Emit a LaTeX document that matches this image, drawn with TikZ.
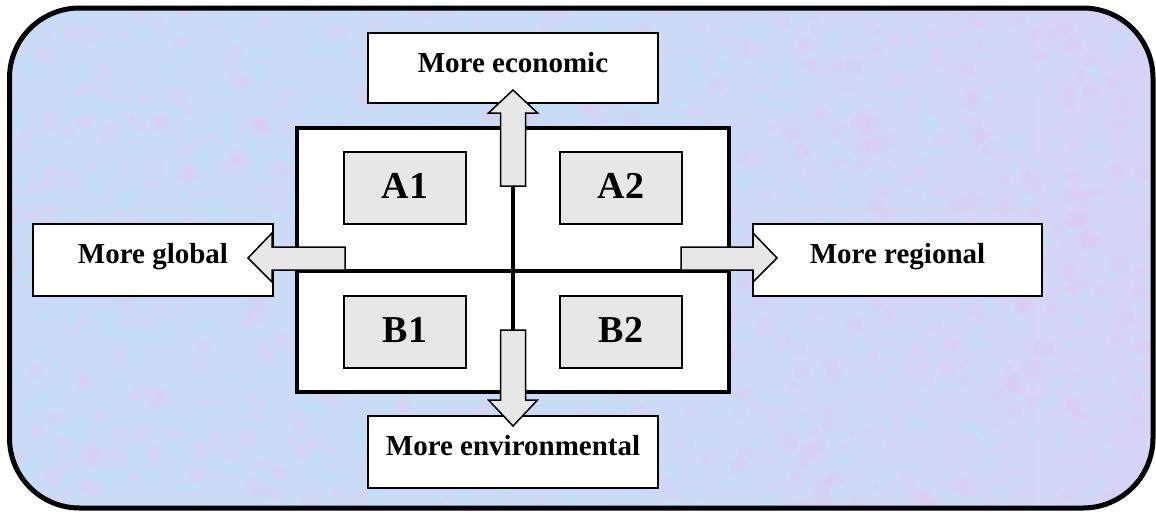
\documentclass[tikz,border=0pt]{standalone}
\usepackage{fontspec}
\setmainfont{Liberation Serif}
\definecolor{bgblue}{RGB}{202,219,247}
\definecolor{bglav}{RGB}{214,212,247}
\definecolor{spotpink}{RGB}{230,200,240}
\definecolor{spotcyan}{RGB}{190,230,247}
\definecolor{boxgray}{RGB}{231,231,231}
\tikzset{
  labelbox/.style={draw=black, line width=1.6pt, fill=white, inner sep=0pt,
    font=\fontsize{29}{30}\selectfont\bfseries, anchor=base},
  cellbox/.style={draw=black, line width=1.6pt, fill=boxgray, inner sep=0pt,
    minimum width=122pt, text height=46pt, text depth=26pt,
    font=\fontsize{38}{40}\selectfont\bfseries, anchor=base},
  blockarrow/.style={draw=black, line width=1.5pt, fill=boxgray, line join=miter},
  divider/.style={line width=3.8pt}
}
\begin{document}
\begin{tikzpicture}[x=1pt,y=-1pt]
\useasboundingbox (0,0) rectangle (1156,514);
% background panel with a fine mottled texture
\begin{scope}
  \clip[rounded corners=70pt] (9.5,8) rectangle (1153,508);
  \shade[left color=bgblue, right color=bglav, middle color=bgblue] (9.5,8) rectangle (1153,508);
  \pgfmathsetseed{4711}
  \foreach \i in {1,...,700} {
    \pgfmathsetmacro{\px}{10+1143*rnd}
    \pgfmathsetmacro{\py}{8+500*rnd}
    \pgfmathsetmacro{\pr}{3+7*rnd}
    \fill[spotpink, opacity=0.25] (\px,\py) circle[radius=\pr];
  }
  \foreach \i in {1,...,700} {
    \pgfmathsetmacro{\px}{10+1143*rnd}
    \pgfmathsetmacro{\py}{8+500*rnd}
    \pgfmathsetmacro{\pr}{3+7*rnd}
    \fill[spotcyan, opacity=0.25] (\px,\py) circle[radius=\pr];
  }
\end{scope}
\draw[line width=5pt, rounded corners=70pt] (9.5,8) rectangle (1153,508);
% main box
\node[draw=black, line width=4pt, fill=white, inner sep=0pt,
  minimum width=432pt, minimum height=264pt] (main) at (513,260) {};
\coordinate (ml) at (297,271);
\coordinate (mr) at (729,271);
\draw[divider] (ml) -- (mr);
% cells
\node[cellbox] (A1) at (405,198) {A1};
\node[cellbox] (A2) at (621,198) {A2};
\node[cellbox] (B1) at (405,342) {B1};
\node[cellbox] (B2) at (621,342) {B2};
% label boxes
\node[labelbox, minimum width=290pt, text height=39pt, text depth=31pt] (econ) at (513,72) {More economic};
\node[labelbox, minimum width=290pt, text height=39pt, text depth=33pt] (env) at (513,455) {More environmental};
\node[labelbox, minimum width=240pt, text height=39pt, text depth=33pt] (glob) at (153,263) {More global};
\node[labelbox, minimum width=289pt, text height=39pt, text depth=33pt] (reg) at (897.5,263) {More regional};
% vertical divider
\coordinate (vt) at (513,186);
\coordinate (vb) at (513,330);
\draw[divider] (vt) -- (vb);
% block arrows
\draw[blockarrow] (500.5,186) -- (500.5,113) -- (488.5,113) -- (513,90) -- (537.5,113) -- (525.5,113) -- (525.5,186) -- cycle;
\draw[blockarrow] (500.5,330) -- (500.5,400) -- (488.5,400) -- (513,426) -- (537.5,400) -- (525.5,400) -- (525.5,330) -- cycle;
\draw[blockarrow] (345,247) -- (272,247) -- (272,233) -- (248,258) -- (272,282) -- (272,270) -- (345,270) -- cycle;
\draw[blockarrow] (681,247) -- (753,247) -- (753,233) -- (777,258) -- (753,282) -- (753,270) -- (681,270) -- cycle;
\end{tikzpicture}
\end{document}
